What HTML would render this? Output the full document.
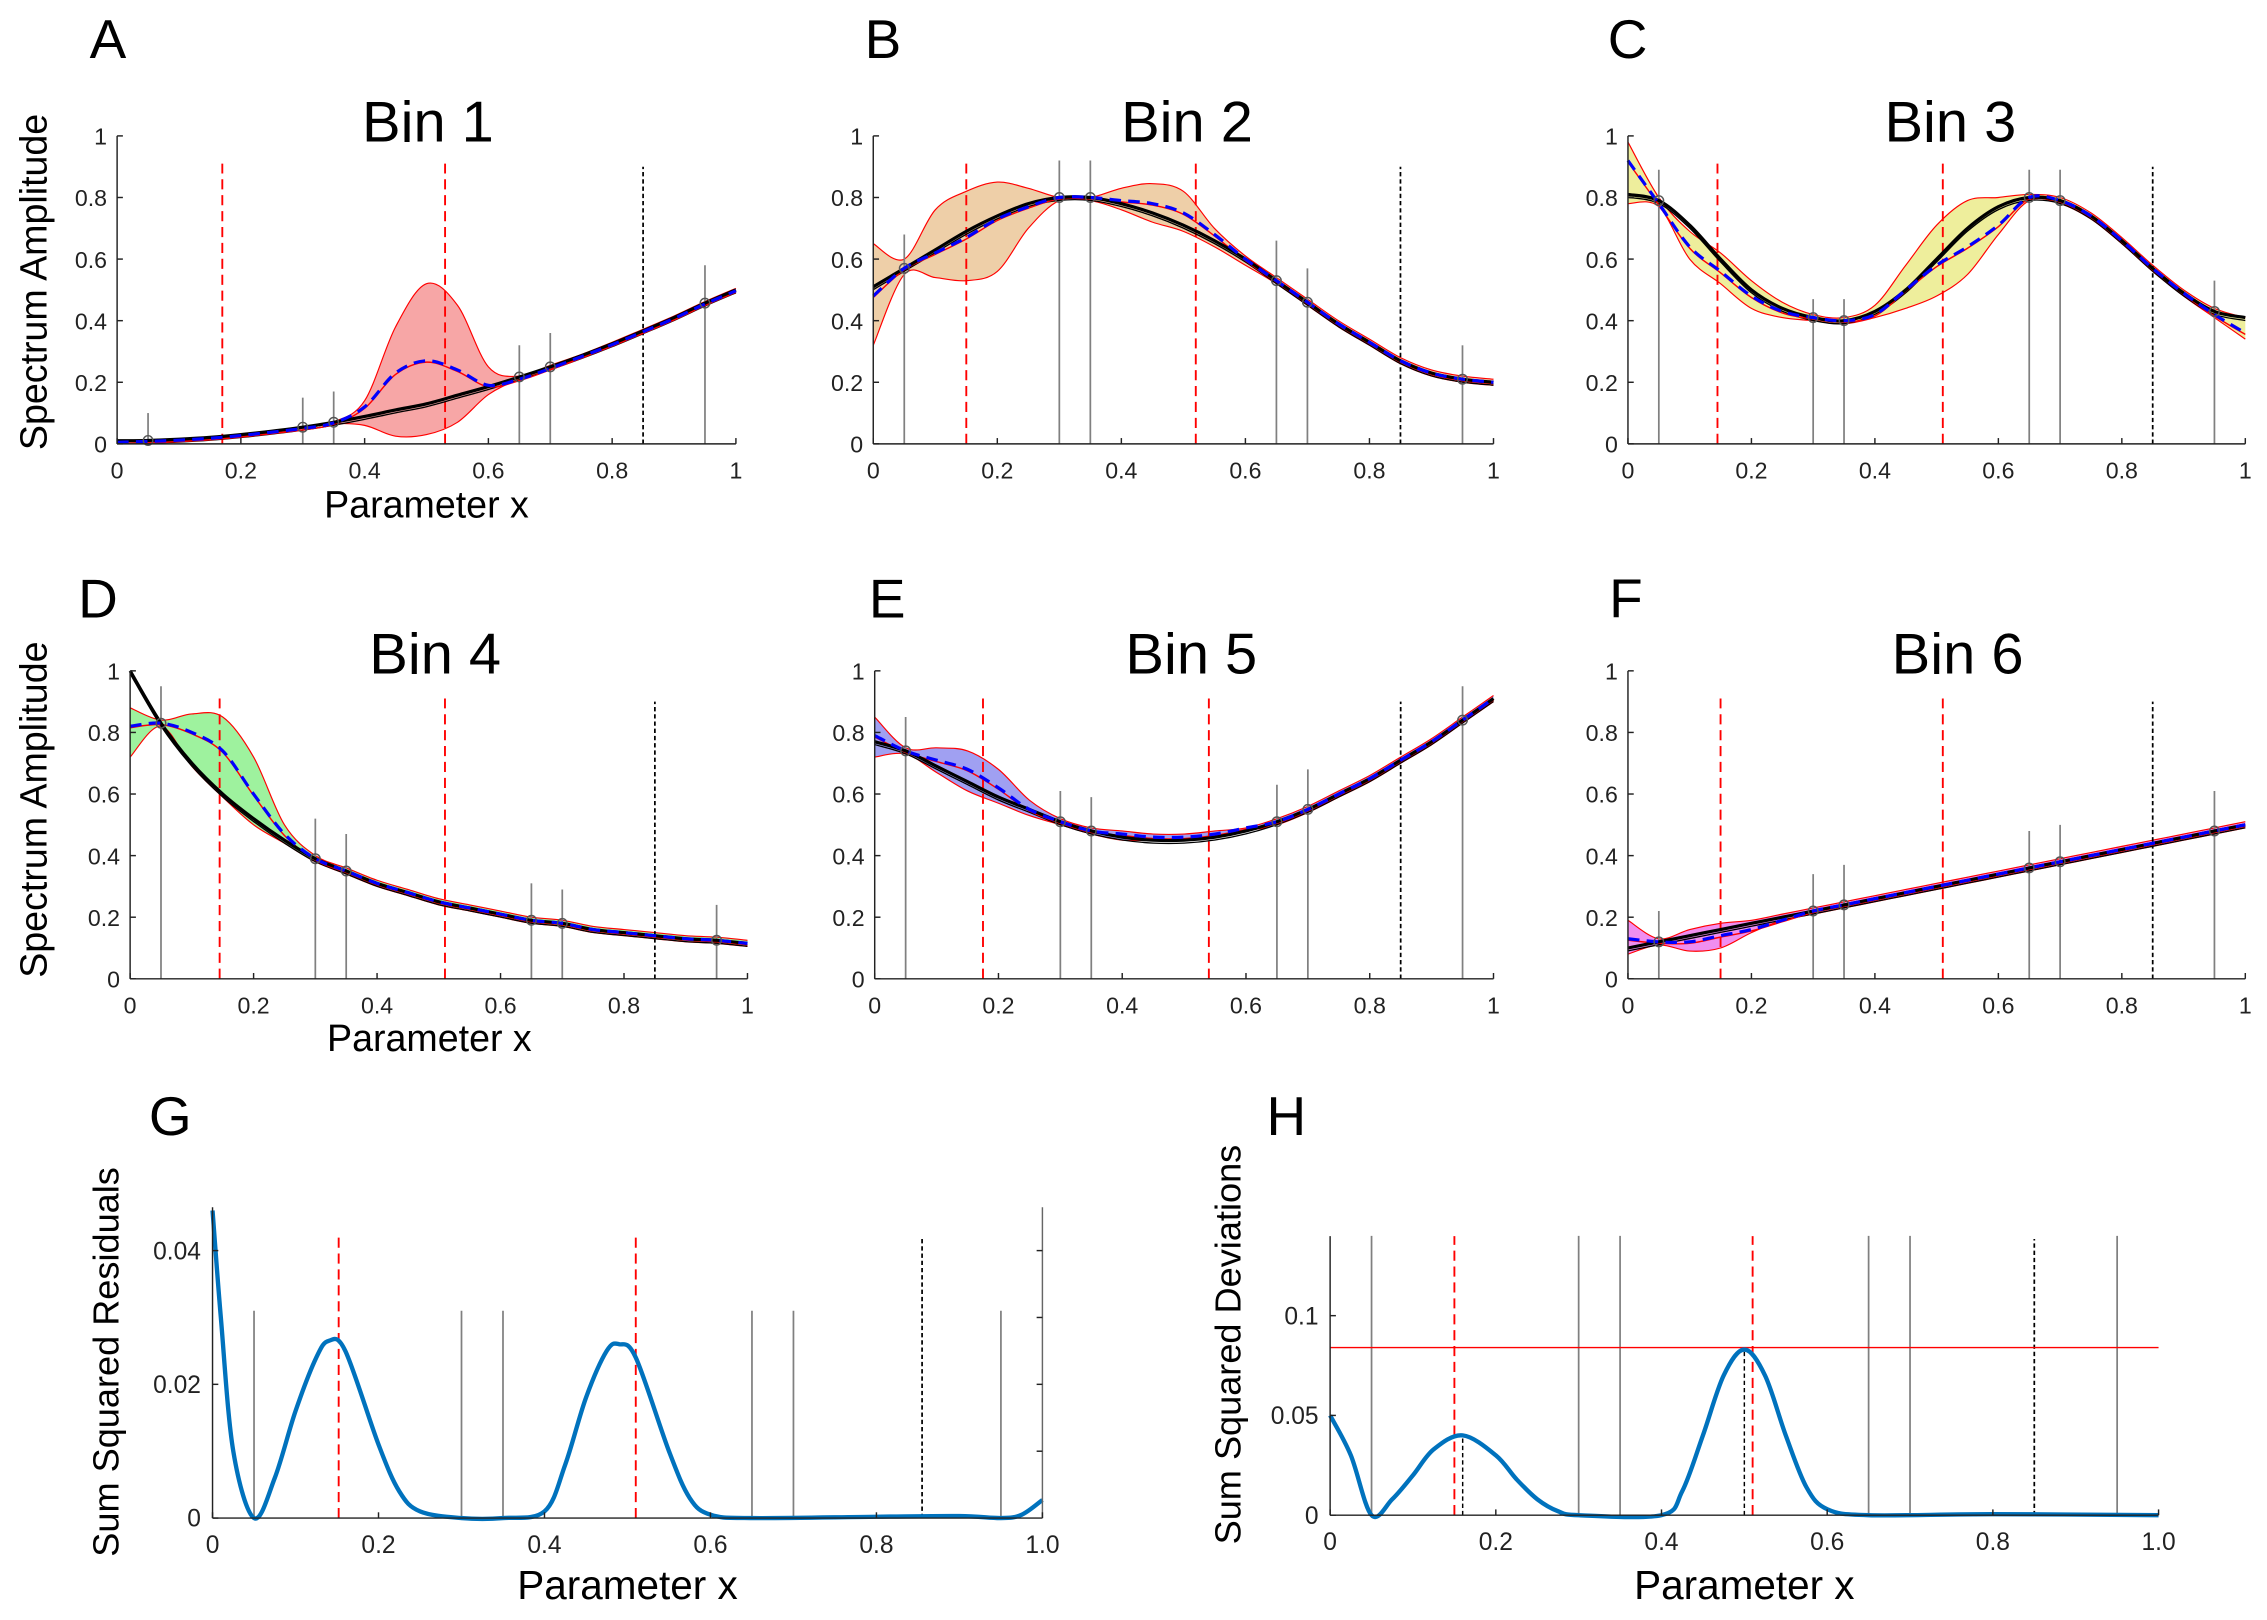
<!DOCTYPE html>
<html><head><meta charset="utf-8"><style>
html,body{margin:0;padding:0;background:#fff;}
svg{display:block;font-family:"Liberation Sans",sans-serif;}
</style></head><body>
<svg id="fig" width="2267" height="1620" viewBox="0 0 1568 1120.5" xmlns="http://www.w3.org/2000/svg"></svg>
<script>
const xs = [0,0.05,0.1,0.15,0.2,0.25,0.3,0.35,0.4,0.45,0.5,0.55,0.6,0.65,0.7,0.75,0.8,0.85,0.9,0.95,1];
const samples = [0.05,0.3,0.35,0.65,0.7,0.95];
const xTicks = [0,0.2,0.4,0.6,0.8,1];
const yTicks = [0,0.2,0.4,0.6,0.8,1];
const binNames = ["Bin 1","Bin 2","Bin 3","Bin 4","Bin 5","Bin 6"];
const binLetters = ["A","B","C","D","E","F"];
const truth1=[0.01,0.011,0.015,0.021,0.03,0.041,0.054,0.07,0.089,0.11,0.13,0.158,0.186,0.217,0.25,0.286,0.325,0.367,0.41,0.457,0.5];
const mean1=[0.005,0.008,0.012,0.018,0.027,0.038,0.05,0.068,0.12,0.23,0.27,0.24,0.19,0.21,0.245,0.283,0.322,0.364,0.407,0.454,0.497];
const up1=[0.012,0.013,0.017,0.023,0.032,0.043,0.056,0.072,0.14,0.38,0.52,0.45,0.25,0.22,0.255,0.29,0.33,0.372,0.415,0.462,0.505];
const lo1=[0.0,0.005,0.01,0.016,0.025,0.036,0.05,0.065,0.06,0.025,0.03,0.07,0.16,0.21,0.245,0.28,0.32,0.362,0.405,0.452,0.49];
const truth2=[0.51,0.57,0.63,0.69,0.74,0.78,0.8,0.8,0.78,0.75,0.71,0.66,0.6,0.53,0.46,0.39,0.33,0.27,0.23,0.21,0.2];
const mean2=[0.48,0.57,0.62,0.67,0.73,0.77,0.8,0.8,0.79,0.78,0.75,0.68,0.6,0.53,0.46,0.39,0.33,0.27,0.23,0.21,0.2];
const up2=[0.65,0.6,0.76,0.82,0.85,0.83,0.8,0.8,0.83,0.845,0.82,0.7,0.61,0.54,0.47,0.4,0.34,0.28,0.24,0.22,0.21];
const lo2=[0.32,0.55,0.54,0.53,0.56,0.7,0.79,0.79,0.76,0.72,0.69,0.64,0.58,0.52,0.45,0.38,0.32,0.26,0.22,0.2,0.19];
const truth3=[0.81,0.79,0.71,0.6,0.5,0.44,0.41,0.4,0.43,0.5,0.6,0.7,0.77,0.8,0.79,0.74,0.66,0.57,0.49,0.43,0.41];
const mean3=[0.92,0.78,0.64,0.56,0.48,0.43,0.41,0.4,0.42,0.5,0.58,0.64,0.71,0.8,0.79,0.74,0.66,0.57,0.49,0.42,0.36];
const up3=[0.98,0.8,0.69,0.62,0.53,0.46,0.42,0.41,0.45,0.58,0.71,0.79,0.8,0.81,0.8,0.75,0.67,0.58,0.5,0.44,0.41];
const lo3=[0.78,0.77,0.6,0.52,0.44,0.41,0.4,0.39,0.41,0.44,0.48,0.55,0.68,0.79,0.78,0.73,0.65,0.56,0.48,0.41,0.34];
const truth4=[1.0,0.83,0.7,0.6,0.52,0.45,0.39,0.35,0.31,0.28,0.25,0.23,0.21,0.19,0.18,0.16,0.15,0.14,0.13,0.125,0.115];
const mean4=[0.82,0.83,0.8,0.74,0.6,0.47,0.39,0.35,0.31,0.28,0.25,0.23,0.21,0.19,0.18,0.16,0.15,0.14,0.13,0.125,0.115];
const up4=[0.88,0.84,0.86,0.85,0.72,0.5,0.4,0.36,0.32,0.29,0.26,0.24,0.22,0.2,0.19,0.17,0.16,0.15,0.14,0.135,0.125];
const lo4=[0.72,0.82,0.69,0.59,0.5,0.44,0.38,0.34,0.3,0.27,0.24,0.22,0.2,0.18,0.17,0.15,0.14,0.13,0.12,0.115,0.105];
const truth5=[0.77,0.74,0.69,0.64,0.59,0.55,0.51,0.48,0.46,0.45,0.45,0.46,0.48,0.51,0.55,0.6,0.65,0.71,0.77,0.84,0.91];
const mean5=[0.79,0.74,0.71,0.68,0.62,0.55,0.51,0.48,0.47,0.46,0.46,0.47,0.49,0.51,0.55,0.6,0.65,0.71,0.77,0.84,0.91];
const up5=[0.85,0.75,0.75,0.74,0.68,0.58,0.52,0.49,0.48,0.47,0.47,0.48,0.49,0.52,0.56,0.61,0.66,0.72,0.78,0.85,0.92];
const lo5=[0.72,0.73,0.67,0.61,0.57,0.53,0.5,0.47,0.45,0.45,0.45,0.46,0.48,0.5,0.54,0.59,0.64,0.7,0.76,0.83,0.9];
const truth6=[0.1,0.12,0.14,0.16,0.18,0.2,0.22,0.24,0.26,0.28,0.3,0.32,0.34,0.36,0.38,0.4,0.42,0.44,0.46,0.48,0.5];
const mean6=[0.13,0.12,0.12,0.14,0.16,0.19,0.22,0.24,0.26,0.28,0.3,0.32,0.34,0.36,0.38,0.4,0.42,0.44,0.46,0.48,0.5];
const up6=[0.19,0.13,0.16,0.18,0.19,0.21,0.23,0.25,0.27,0.29,0.31,0.33,0.35,0.37,0.39,0.41,0.43,0.45,0.47,0.49,0.51];
const lo6=[0.08,0.11,0.09,0.1,0.15,0.19,0.21,0.23,0.25,0.27,0.29,0.31,0.33,0.35,0.37,0.39,0.41,0.43,0.45,0.47,0.49];
const errTops=[[0.1,0.15,0.17,0.32,0.36,0.58],[0.68,0.92,0.92,0.66,0.57,0.32],[0.89,0.47,0.47,0.89,0.89,0.53],[0.95,0.52,0.47,0.31,0.29,0.24],[0.85,0.61,0.59,0.63,0.68,0.95],[0.22,0.34,0.37,0.48,0.5,0.61]];
const redLines=[[0.17,0.53],[0.15,0.52],[0.145,0.51],[0.145,0.51],[0.175,0.54],[0.15,0.51]];
const blackLine=0.85;
const gX=[0,0.01,0.025,0.05,0.075,0.1,0.125,0.14,0.16,0.2,0.225,0.25,0.3,0.35,0.4,0.425,0.45,0.475,0.49,0.51,0.55,0.575,0.6,0.65,0.8,0.9,0.95,0.975,1];
const gY=[0.046,0.03,0.01,0,0.006,0.016,0.024,0.0265,0.025,0.011,0.004,0.001,0,0,0.001,0.008,0.018,0.025,0.026,0.024,0.01,0.003,0.0005,0,0.0002,0.0003,0,0.0005,0.0027];
const gYTicks=[0,0.02,0.04];
const hX=[0,0.025,0.05,0.075,0.1,0.125,0.16,0.2,0.225,0.25,0.275,0.3,0.4,0.425,0.45,0.475,0.5,0.525,0.55,0.575,0.6,0.65,0.8,1];
const hY=[0.05,0.03,0,0.008,0.02,0.033,0.04,0.03,0.018,0.008,0.002,0,0,0.012,0.04,0.07,0.083,0.07,0.04,0.014,0.003,0,0.0005,0];
const hYTicks=[0,0.05,0.1];
const hThreshold=0.084;
const botXTicks=[0,0.2,0.4,0.6,0.8,1.0];

const svg=document.getElementById('fig');
const NS='http://www.w3.org/2000/svg';
function mk(tag,attrs,parent){const e=document.createElementNS(NS,tag);for(const k in attrs)e.setAttribute(k,attrs[k]);(parent||svg).appendChild(e);return e;}
function txt(s,attrs,parent){const e=mk('text',attrs,parent);e.textContent=s;return e;}
function smooth(pts){let d='M'+pts[0][0].toFixed(2)+','+pts[0][1].toFixed(2);
 for(let i=0;i<pts.length-1;i++){const p0=pts[Math.max(0,i-1)],p1=pts[i],p2=pts[i+1],p3=pts[Math.min(pts.length-1,i+2)];
  const c1=[p1[0]+(p2[0]-p0[0])/6,p1[1]+(p2[1]-p0[1])/6],c2=[p2[0]-(p3[0]-p1[0])/6,p2[1]-(p3[1]-p1[1])/6];
  d+=' C'+c1[0].toFixed(2)+','+c1[1].toFixed(2)+' '+c2[0].toFixed(2)+','+c2[1].toFixed(2)+' '+p2[0].toFixed(2)+','+p2[1].toFixed(2);}
 return d;}
function interp(X,Y,x){for(let i=0;i<X.length-1;i++){if(x>=X[i]&&x<=X[i+1]){const t=(x-X[i])/(X[i+1]-X[i]);return Y[i]+t*(Y[i+1]-Y[i]);}}return Y[Y.length-1];}

const boxes=[[81,509,94,307],[604,1033,94,307],[1126,1553,94,307],[90,517,464,677],[605,1033,464,677],[1126,1553,464,677]];
const fills=['#f7a6a6','#eecfa8','#eeee9c','#9ef29e','#a0a0f2','#f08ef0'];
const truths=[truth1,truth2,truth3,truth4,truth5,truth6],means=[mean1,mean2,mean3,mean4,mean5,mean6],ups=[up1,up2,up3,up4,up5,up6],los=[lo1,lo2,lo3,lo4,lo5,lo6];
const letterPos=[[62,40],[598,40],[1112,40],[54,427],[601,427],[1113,427]];
const titlePos=[[296,98],[821,98],[1349,98],[301,466],[824,466],[1354,466]];

boxes.forEach((b,k)=>{
 const [x0,x1,yt,yb]=b;
 const X=v=>x0+v*(x1-x0),Y=v=>yb-v*(yb-yt);
 const g=mk('g',{});
 
 
 const up=ups[k].map((v,i)=>[X(xs[i]),Y(v)]),lo=los[k].map((v,i)=>[X(xs[i]),Y(v)]);
 const lor=lo.slice().reverse();
 const band=mk('path',{d:smooth(up)+' L'+smooth(lor).slice(1)+' Z',fill:fills[k],stroke:'none'},g);
 
 
 mk('path',{d:smooth(up),fill:'none',stroke:'#f00','stroke-width':0.8},g);
 mk('path',{d:smooth(lo),fill:'none',stroke:'#f00','stroke-width':0.8},g);
 samples.forEach((s,i)=>{const l=mk('line',{x1:X(s),x2:X(s),y1:yb,y2:Y(errTops[k][i]),stroke:'#808080','stroke-width':1.2},g);
  
  });
 redLines[k].forEach(r=>{const l=mk('line',{x1:X(r),x2:X(r),y1:yb,y2:Y(0.91),stroke:'#f00','stroke-width':1.3,'stroke-dasharray':'7,4'},g);
  
  });
 const bl=mk('line',{x1:X(blackLine),x2:X(blackLine),y1:yb,y2:Y(0.9),stroke:'#000','stroke-width':1.2,'stroke-dasharray':'3,2'},g);
 
 
 const tp=truths[k].map((v,i)=>[X(xs[i]),Y(v)]);
 mk('path',{d:smooth(tp.map(p=>[p[0],p[1]+2])),fill:'none',stroke:'#000','stroke-width':0.9},g);
 mk('path',{d:smooth(means[k].map((v,i)=>[X(xs[i]),Y(v)+1])),fill:'none',stroke:'#f00','stroke-width':1},g);
 const tr=mk('path',{d:smooth(tp),fill:'none',stroke:'#000','stroke-width':2.2},g);
 
 
 const mn=mk('path',{d:smooth(means[k].map((v,i)=>[X(xs[i]),Y(v)])),fill:'none',stroke:'#0000ff','stroke-width':2.2,'stroke-dasharray':'8,5'},g);
 
 
 samples.forEach(s=>{const c=mk('circle',{cx:X(s),cy:Y(interp(xs,truths[k],s)),r:3.3,fill:'none',stroke:'#555','stroke-width':1},g);
  
  });
 mk('line',{x1:x0,x2:x0,y1:yt,y2:yb,stroke:'#222','stroke-width':1},g);
 mk('line',{x1:x0,x2:x1,y1:yb,y2:yb,stroke:'#222','stroke-width':1},g);
 xTicks.forEach(t=>{mk('line',{x1:X(t),x2:X(t),y1:yb,y2:yb-4,stroke:'#222'},g);
  const e=txt(String(t),{x:X(t),y:yb+24,'font-size':16,'text-anchor':'middle',fill:'#222'},g);
  
  });
 yTicks.forEach(t=>{mk('line',{x1:x0,x2:x0+4,y1:Y(t),y2:Y(t),stroke:'#222'},g);
  const e=txt(String(t),{x:x0-7,y:Y(t)+6,'font-size':16,'text-anchor':'end',fill:'#222'},g);
  
  });
 const tt=txt(binNames[k],{x:titlePos[k][0],y:titlePos[k][1],'font-size':40,'text-anchor':'middle'},g);
 
 
 const lt=txt(binLetters[k],{x:letterPos[k][0],y:letterPos[k][1],'font-size':38},g);
 
 
});
[[195,358,295],[560,727,297]].forEach(r=>{
 const y=txt('Spectrum Amplitude',{x:0,y:0,'font-size':26,'text-anchor':'middle',transform:'translate(32,'+r[0]+') rotate(-90)'});
 
 
 const x=txt('Parameter x',{x:r[2],y:r[1],'font-size':26,'text-anchor':'middle'});
 
 
});

function bottomPanel(cfg){
 const {x0,x1,yb,scale,top,DX,DY,yt,grayTop,reds,blk,letter,lx,ylab,ylx,yly,rightAxis,thr,shortBlk}=cfg;
 const X=v=>x0+v*(x1-x0),Y=v=>yb-v*scale;
 const g=mk('g',{});
 
 
 samples.forEach(s=>{const l=mk('line',{x1:X(s),x2:X(s),y1:yb,y2:Y(grayTop),stroke:'#808080','stroke-width':1.2},g);
  
  });
 reds.forEach(r=>{const l=mk('line',{x1:X(r),x2:X(r),y1:yb,y2:cfg.redTop,stroke:'#f00','stroke-width':1.3,'stroke-dasharray':'7,4'},g);
  
  });
 const bl=mk('line',{x1:X(blk),x2:X(blk),y1:yb,y2:cfg.redTop+2,stroke:'#000','stroke-width':1.2,'stroke-dasharray':'3,2'},g);
 
 
 if(shortBlk){shortBlk.forEach(s=>{const l=mk('line',{x1:X(s[0]),x2:X(s[0]),y1:yb,y2:Y(s[1]),stroke:'#000','stroke-width':1,'stroke-dasharray':'3,2'},g);
  
  });}
 if(thr!==undefined){const l=mk('line',{x1:X(0),x2:X(1),y1:Y(thr),y2:Y(thr),stroke:'#f00','stroke-width':1},g);
  
  }
 const c=mk('path',{d:smooth(DX.map((v,i)=>[X(v),Y(DY[i])])),fill:'none',stroke:'#0072bd','stroke-width':3},g);
 
 
 mk('line',{x1:x0,x2:x0,y1:top,y2:yb,stroke:'#222'},g);
 mk('line',{x1:x0,x2:x1,y1:yb,y2:yb,stroke:'#222'},g);
 if(rightAxis){mk('line',{x1:x1,x2:x1,y1:top,y2:yb,stroke:'#666'},g);
  [0.01,0.02,0.03,0.04].forEach(t=>mk('line',{x1:x1,x2:x1-4,y1:Y(t),y2:Y(t),stroke:'#222'},g));}
 botXTicks.forEach(t=>{mk('line',{x1:X(t),x2:X(t),y1:yb,y2:yb-4,stroke:'#222'},g);
  const e=txt(t===0?'0':t.toFixed(1),{x:X(t),y:yb+24,'font-size':17,'text-anchor':'middle',fill:'#222'},g);
  
  });
 yt.forEach(t=>{mk('line',{x1:x0,x2:x0+4,y1:Y(t),y2:Y(t),stroke:'#222'},g);
  const e=txt(String(t),{x:x0-8,y:Y(t)+6,'font-size':17,'text-anchor':'end',fill:'#222'},g);
  
  });
 const lt=txt(letter,{x:lx,y:785,'font-size':38},g);
 
 
 const yl=txt(ylab,{x:0,y:0,'font-size':25,'text-anchor':'middle',transform:'translate('+ylx+','+yly+') rotate(-90)'},g);
 
 
 const xl=txt('Parameter x',{x:(x0+x1)/2,y:1106,'font-size':28,'text-anchor':'middle'},g);
 
 
}
bottomPanel({x0:147,x1:721,yb:1050,scale:4625,top:835,DX:gX,DY:gY,yt:gYTicks,grayTop:0.031,reds:[0.152,0.51],blk:0.855,redTop:853,letter:'G',lx:103,ylab:'Sum Squared Residuals',ylx:82,yly:942,rightAxis:true});
bottomPanel({x0:920,x1:1493,yb:1048,scale:1380,top:855,DX:hX,DY:hY,yt:hYTicks,grayTop:0.14,reds:[0.15,0.51],blk:0.85,redTop:855,letter:'H',lx:876,ylab:'Sum Squared Deviations',ylx:858,yly:930,rightAxis:false,thr:hThreshold,shortBlk:[[0.16,0.04],[0.5,0.083]]});
</script>
</body></html>
